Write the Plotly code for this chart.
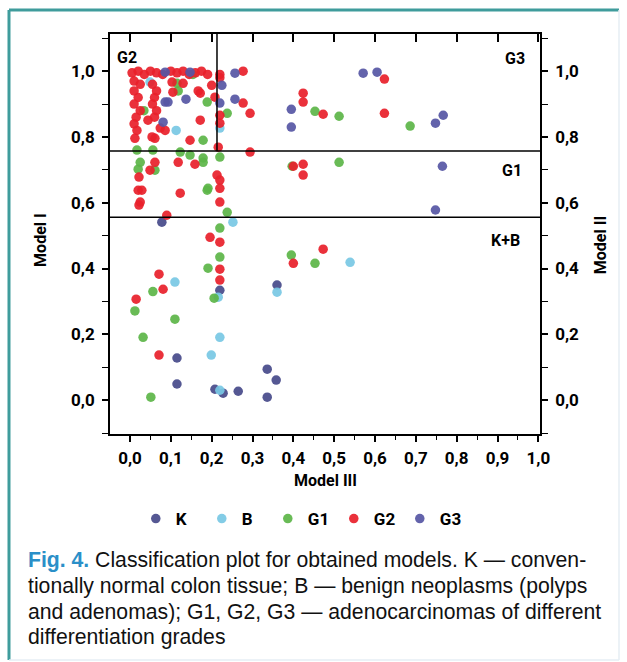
import plotly.graph_objects as go

# ---- data (Model III on x, Model I on y) ----
g2_x = [0.005, 0.02, 0.035, 0.05, 0.065, 0.08, 0.10, 0.115, 0.13, 0.145, 0.16, 0.175, 0.19, 0.22, 0.277,
        0.01, 0.025, 0.01, 0.02, 0.01, 0.025, 0.015, 0.01, 0.017, 0.012,
        0.055, 0.065, 0.06, 0.055, 0.065, 0.044, 0.06, 0.074, 0.086, 0.061, 0.054,
        0.105, 0.13, 0.172, 0.2, 0.103, 0.167, 0.22, 0.208, 0.277, 0.294, 0.22, 0.22, 0.172, 0.147,
        0.216, 0.294, 0.118, 0.061, 0.159, 0.049, 0.022, 0.213, 0.22, 0.02, 0.029, 0.123, 0.22,
        0.025, 0.022, 0.22, 0.09, 0.196, 0.22, 0.071, 0.22, 0.22, 0.081, 0.015, 0.071,
        0.424, 0.424, 0.473, 0.623, 0.623, 0.40, 0.424, 0.424, 0.40, 0.473]
g2_y = [0.995, 1.0, 0.99, 1.0, 0.995, 0.99, 1.0, 0.995, 1.0, 0.99, 0.995, 1.0, 0.99, 0.99, 1.0,
        0.97, 0.96, 0.94, 0.92, 0.90, 0.88, 0.86, 0.84, 0.82, 0.796,
        0.96, 0.94, 0.92, 0.90, 0.88, 0.851, 0.86, 0.827, 0.82, 0.796, 0.80,
        0.936, 0.963, 0.933, 0.957, 0.967, 0.94, 0.98, 0.921, 0.903, 0.872, 0.866, 0.842, 0.851, 0.79,
        0.769, 0.754, 0.723, 0.723, 0.717, 0.699, 0.678, 0.684, 0.669, 0.638, 0.638, 0.629, 0.644,
        0.602, 0.593, 0.602, 0.562, 0.495, 0.48, 0.383, 0.398, 0.365, 0.337, 0.307, 0.137,
        0.933, 0.906, 0.869, 0.976, 0.872, 0.711, 0.717, 0.684, 0.416, 0.459]

g1_x = [0.115, 0.118, 0.154, 0.189, 0.034, 0.238, 0.179, 0.017, 0.056, 0.123, 0.147, 0.179, 0.22,
        0.025, 0.179, 0.02, 0.061, 0.189, 0.191, 0.238, 0.22, 0.22, 0.191, 0.056, 0.206, 0.012,
        0.11, 0.032, 0.051, 0.453, 0.512, 0.686, 0.397, 0.512, 0.395, 0.453]
g1_y = [0.963, 0.94, 0.99, 0.906, 0.88, 0.872, 0.79, 0.76, 0.76, 0.754, 0.745, 0.736, 0.739,
        0.723, 0.723, 0.702, 0.699, 0.638, 0.644, 0.571, 0.523, 0.435, 0.401, 0.33, 0.31, 0.271,
        0.246, 0.191, 0.009, 0.878, 0.863, 0.833, 0.711, 0.723, 0.441, 0.416]

b_x = [0.049, 0.113, 0.22, 0.252, 0.11, 0.36, 0.216, 0.22, 0.22, 0.539, 0.199]
b_y = [0.967, 0.82, 0.827, 0.541, 0.359, 0.328, 0.313, 0.191, 0.03, 0.419, 0.137]

k_x = [0.078, 0.36, 0.22, 0.115, 0.336, 0.358, 0.115, 0.208, 0.228, 0.265, 0.336]
k_y = [0.541, 0.35, 0.334, 0.128, 0.094, 0.061, 0.049, 0.033, 0.021, 0.027, 0.009]

g3_x = [0.086, 0.147, 0.257, 0.225, 0.22, 0.086, 0.093, 0.137, 0.257, 0.081,
        0.571, 0.605, 0.395, 0.395, 0.748, 0.767, 0.765, 0.748]
g3_y = [0.997, 0.997, 0.994, 0.957, 0.903, 0.906, 0.906, 0.915, 0.915, 0.845,
        0.994, 0.997, 0.884, 0.83, 0.842, 0.866, 0.711, 0.578]

# class boundaries
thr_g3 = 0.757
thr_g1 = 0.556
thr_x = 0.213

tick_vals = [0.0, 0.1, 0.2, 0.3, 0.4, 0.5, 0.6, 0.7, 0.8, 0.9, 1.0]
tick_text = ["0,0", "0,1", "0,2", "0,3", "0,4", "0,5", "0,6", "0,7", "0,8", "0,9", "1,0"]
ytick_vals = [0.0, 0.2, 0.4, 0.6, 0.8, 1.0]
ytick_text = ["0,0", "0,2", "0,4", "0,6", "0,8", "1,0"]

series = [
    ("K", k_x, k_y, "#474a8a"),
    ("B", b_x, b_y, "#78c8e4"),
    ("G1", g1_x, g1_y, "#5cb548"),
    ("G2", g2_x, g2_y, "#e8202a"),
    ("G3", g3_x, g3_y, "#5656a4"),
]

FONT = "Roboto"
fig = go.Figure()
for name, xs, ys, col in series:
    fig.add_trace(go.Scatter(x=xs, y=ys, mode="markers", name=name,
                             marker=dict(size=9.5, color=col, opacity=0.92, line=dict(width=0))))
fig.add_trace(go.Scatter(x=[None], y=[None], yaxis="y2", showlegend=False))
fig.add_trace(go.Scatter(x=[None], y=[None], xaxis="x2", showlegend=False))

XR = [-0.049, 1.004]
YR = [-0.103, 1.113]

fig.add_shape(type="line", xref="x domain", yref="y", x0=0, x1=1, y0=thr_g3, y1=thr_g3,
              line=dict(color="black", width=1.5))
fig.add_shape(type="line", xref="x domain", yref="y", x0=0, x1=1, y0=thr_g1, y1=thr_g1,
              line=dict(color="black", width=1.5))
fig.add_shape(type="line", xref="x", yref="y domain", x0=thr_x, x1=thr_x,
              y0=(thr_g3 - YR[0]) / (YR[1] - YR[0]), y1=1,
              line=dict(color="black", width=1.5))

# frame
fig.add_shape(type="line", xref="paper", yref="paper", x0=-0.2349, x1=-0.2349, y0=-0.565, y1=1.06,
              line=dict(color="#3f9c9c", width=3))
fig.add_shape(type="line", xref="paper", yref="paper", x0=-0.2349, x1=1.1837, y0=1.06, y1=1.06,
              line=dict(color="#3f9c9c", width=3))
fig.add_shape(type="line", xref="paper", yref="paper", x0=1.1837, x1=1.1837, y0=-0.565, y1=1.06,
              line=dict(color="#e6eef4", width=1.5))
fig.add_shape(type="line", xref="paper", yref="paper", x0=-0.2349, x1=1.1837, y0=-0.565, y1=-0.565,
              line=dict(color="#e6eef4", width=1.5))

axfont = dict(family=FONT, size=17, color="black", weight="bold")
common = dict(showgrid=False, zeroline=False, showline=True, linecolor="black", linewidth=1.6,
              tickcolor="black", tickwidth=1.5)

fig.update_layout(
    width=627, height=662,
    margin=dict(l=110, r=87, t=34, b=228),
    paper_bgcolor="white", plot_bgcolor="white",
    xaxis=dict(range=XR, tickvals=tick_vals, ticktext=tick_text, ticks="outside", ticklen=6,
               tickfont=axfont, ticklabelstandoff=2,
               minor=dict(dtick=0.05, tick0=0, ticks="outside", ticklen=4,
                          tickcolor="black", tickwidth=1.2), **common),
    xaxis2=dict(range=XR, overlaying="x", side="top", tickvals=tick_vals, showticklabels=False,
                ticks="inside", ticklen=8, anchor="y", **common),
    yaxis=dict(range=YR, tickvals=ytick_vals, ticktext=ytick_text, ticks="outside", ticklen=6,
               tickfont=axfont, ticklabelstandoff=4,
               minor=dict(dtick=0.1, tick0=0, ticks="outside", ticklen=6, tickcolor="black", tickwidth=1.2),
               **common),
    yaxis2=dict(range=YR, overlaying="y", side="right", tickvals=ytick_vals, ticktext=ytick_text,
                ticks="outside", ticklen=6, tickfont=axfont, ticklabelstandoff=4,
                minor=dict(dtick=0.1, tick0=0, ticks="outside", ticklen=6, tickcolor="black", tickwidth=1.2),
                **common),
    showlegend=True,
    legend=dict(orientation="h", x=0.06, y=-0.2125, xanchor="left", yanchor="middle",
                font=dict(family=FONT, size=17, color="black", weight="bold"),
                entrywidth=21, entrywidthmode="pixels", bgcolor="rgba(0,0,0,0)",
                itemwidth=30, tracegroupgap=0),
)

lab = dict(family=FONT, size=16, color="black", weight="bold")
ann = [
    ("G2", 0.04, 0.9425, 0), ("G3", 0.942, 0.94, 0), ("G1", 0.935, 0.66, 0), ("K+B", 0.919, 0.485, 0),
    ("Model I", -0.163, 0.485, -90), ("Model II", 1.14, 0.4725, -90), ("Model III", 0.5, -0.115, 0),
]
for t, xp, yp, rot in ann:
    fig.add_annotation(text=t, xref="paper", yref="paper", x=xp, y=yp, showarrow=False,
                       textangle=rot, font=lab, xanchor="center", yanchor="middle")

cap_lines = [
    '<span style="color:#2a8fc8"><b>Fig. 4.</b></span> Classification plot for obtained models. K \u2014 conven-',
    "tionally normal colon tissue; B \u2014 benign neoplasms (polyps",
    "and adenomas); G1, G2, G3 \u2014 adenocarcinomas of different",
    "differentiation grades",
]
cap_y = [560, 586, 612, 637]
for t, py in zip(cap_lines, cap_y):
    fig.add_annotation(text=t, xref="paper", yref="paper", x=(26 - 110) / 430, y=(434 - py) / 400,
                       showarrow=False, xanchor="left", yanchor="middle", align="left",
                       font=dict(family="Liberation Sans", size=21.2, color="#111111"))

fig.write_html("out.html")
